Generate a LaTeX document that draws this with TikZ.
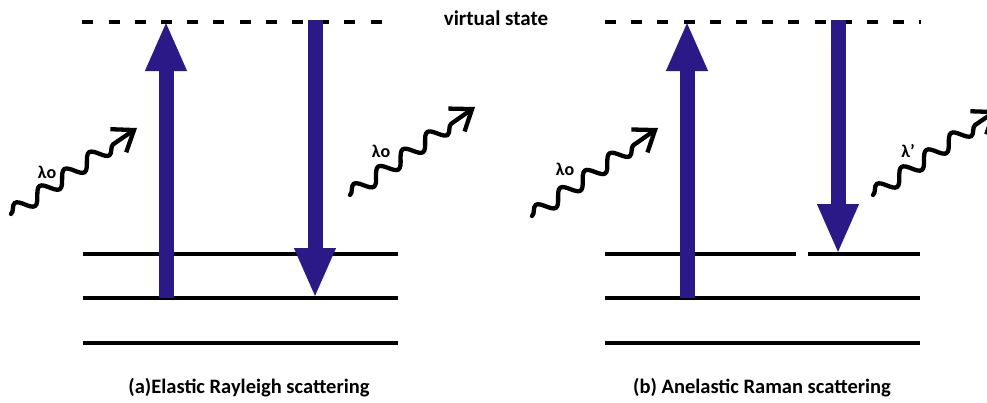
\documentclass[tikz,border=0pt]{standalone}
\usepackage{fontspec}
\setmainfont{Carlito}
\usetikzlibrary{arrows.meta,decorations.pathmorphing}
\definecolor{arrowblue}{RGB}{43,25,135}
\tikzset{
  level/.style={line width=3.5pt, black},
  virt/.style={line width=4pt, black, dash pattern=on 11pt off 15.2pt},
  bigarrow/.style={line width=15pt, arrowblue, -{Triangle[length=50pt,width=38pt]}},
  photon/.style={line width=4.3pt, black, line cap=round,
    decorate, decoration={snake, amplitude=7pt, segment length=30pt, post length=26pt},
    -{Straight Barb[length=19pt,width=28pt]}},
  lbl/.style={font=\bfseries\fontsize{18}{20}\selectfont, inner sep=0pt},
  captext/.style={font=\bfseries\fontsize{20.5}{24}\selectfont, inner sep=0pt}
}
\begin{document}
\begin{tikzpicture}[x=1pt,y=-1pt]
\useasboundingbox[fill=white] (0,0) rectangle (987,402);
% ---------- panel (a) ----------
\coordinate (aV1) at (82.3,21.7);  \coordinate (aV2) at (382,21.7);
\coordinate (aL1a) at (83,254);   \coordinate (aL1b) at (398,254);
\coordinate (aL2a) at (83,298);   \coordinate (aL2b) at (398,298);
\coordinate (aL3a) at (83,343);   \coordinate (aL3b) at (398,343);
\draw[virt] (aV1) -- (aV2);
\draw[level] (aL1a) -- (aL1b);
\draw[level] (aL2a) -- (aL2b);
\draw[level] (aL3a) -- (aL3b);
\coordinate (aUpS) at (166,298); \coordinate (aUpE) at (166,21);
\coordinate (aDnS) at (315,20);  \coordinate (aDnE) at (315,298);
\draw[bigarrow] (aUpS) -- (aUpE);
\draw[bigarrow] (aDnS) -- (aDnE);
\coordinate (aInS) at (11,214);  \coordinate (aInE) at (137,128);
\coordinate (aOutS) at (350,195); \coordinate (aOutE) at (475,107);
\draw[photon] (aInS) -- (aInE);
\draw[photon] (aOutS) -- (aOutE);
\node[lbl] (aInL) at (47,172) {λo};
\node[lbl] (aOutL) at (381,151) {λo};
\node[captext] (aCap) at (249,388) {(a)Elastic Rayleigh scattering};
% ---------- label ----------
\node[font=\bfseries\fontsize{21}{24}\selectfont, inner sep=0pt] (vs) at (496,18) {virtual state};
% ---------- panel (b) ----------
\coordinate (bV1) at (605,21.7);  \coordinate (bV2) at (921,21.7);
\coordinate (bL1a) at (605,254);  \coordinate (bL1m) at (796,254);
\coordinate (bL1n) at (808,254);  \coordinate (bL1b) at (920,254);
\coordinate (bL2a) at (605,298);  \coordinate (bL2b) at (920,298);
\coordinate (bL3a) at (605,343);  \coordinate (bL3b) at (920,343);
\draw[virt] (bV1) -- (bV2);
\draw[level] (bL1a) -- (bL1m);
\draw[level] (bL1n) -- (bL1b);
\draw[level] (bL2a) -- (bL2b);
\draw[level] (bL3a) -- (bL3b);
\coordinate (bUpS) at (687,298); \coordinate (bUpE) at (687,21);
\coordinate (bDnS) at (838,20);  \coordinate (bDnE) at (838,254);
\draw[bigarrow] (bUpS) -- (bUpE);
\draw[bigarrow] (bDnS) -- (bDnE);
\coordinate (bInS) at (532,216); \coordinate (bInE) at (658,128);
\coordinate (bOutS) at (873,195); \coordinate (bOutE) at (997,110);
\draw[photon] (bInS) -- (bInE);
\draw[photon] (bOutS) -- (bOutE);
\node[lbl] (bInL) at (565,169) {λo};
\node[lbl] (bOutL) at (908,151) {λ'};
\node[captext] (bCap) at (762,388) {(b) Anelastic Raman scattering};
\end{tikzpicture}
\end{document}
